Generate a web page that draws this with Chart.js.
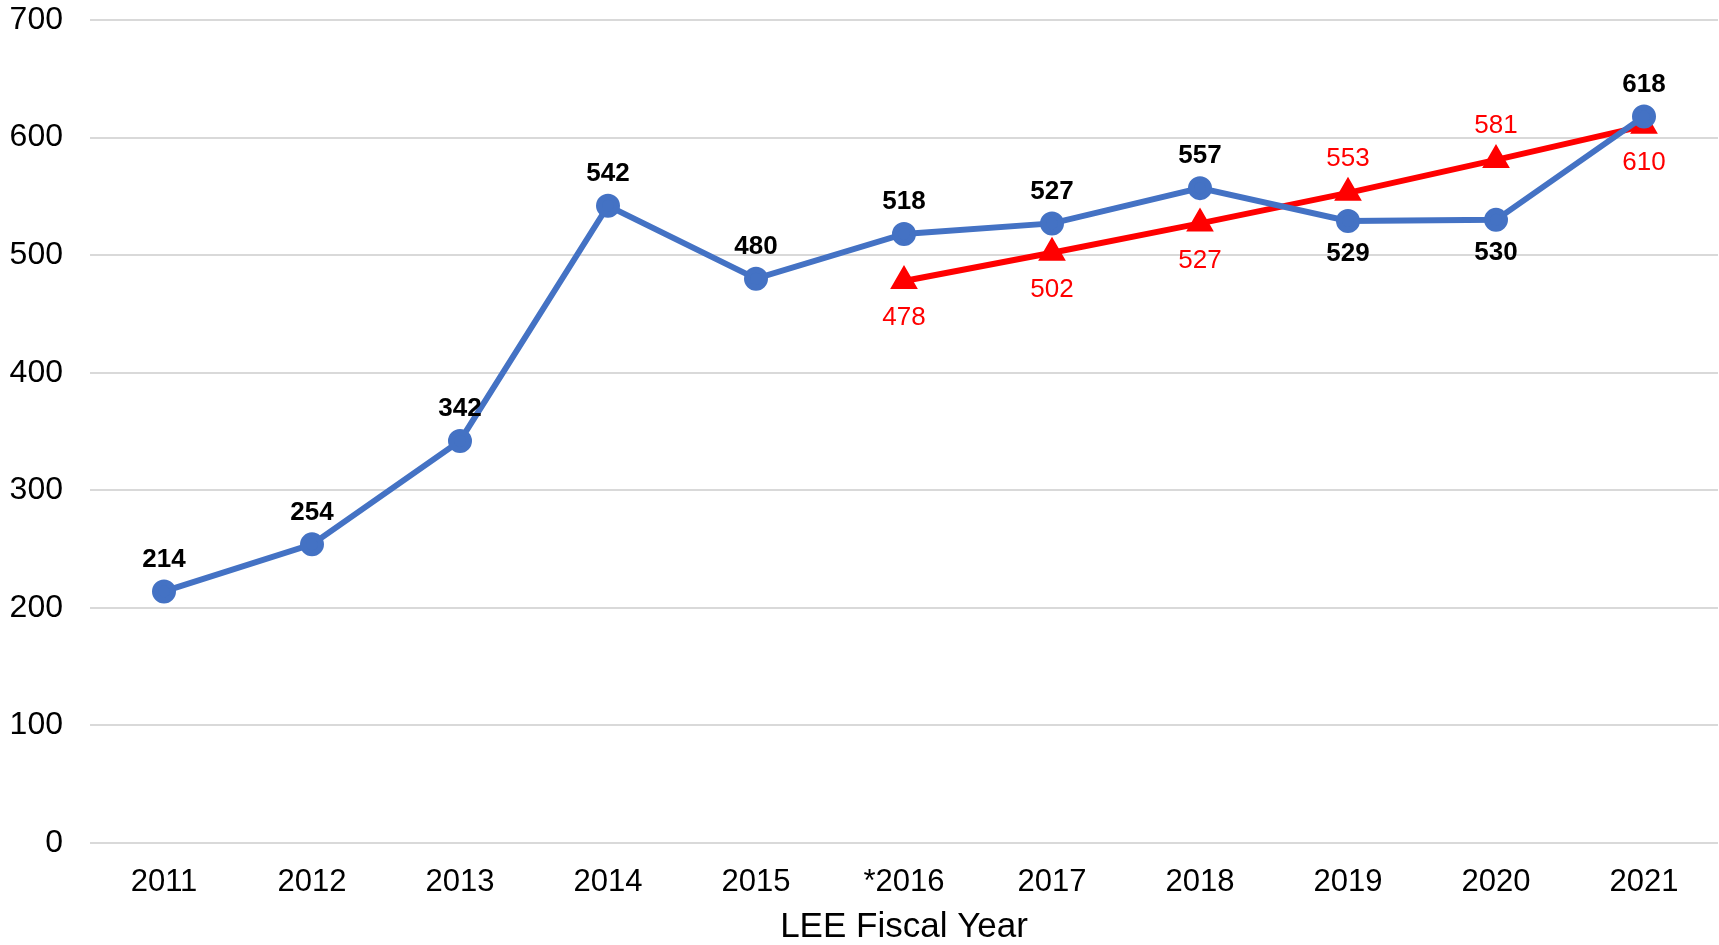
<!DOCTYPE html>
<html>
<head>
<meta charset="utf-8">
<script src="https://cdn.jsdelivr.net/npm/chart.js@4"></script>
<style>
  html, body { margin: 0; padding: 0; background: #fff; overflow: hidden; }
  canvas { display: block; }
</style>
</head>
<body>
<canvas id="grafico" width="1719" height="945"></canvas>
<script>
// dados
const anos = ['2011', '2012', '2013', '2014', '2015', '*2016', '2017', '2018', '2019', '2020', '2021'];
const valoresAzul = [214, 254, 342, 542, 480, 518, 527, 557, 529, 530, 618];
const valoresVermelho = [null, null, null, null, null, 478, 502, 527, 553, 581, 610];
const posAzul = ['up', 'up', 'up', 'up', 'up', 'up', 'up', 'up', 'down', 'down', 'up'];
const posVermelho = [null, null, null, null, null, 'down', 'down', 'down', 'up', 'up', 'down'];

const FONTE = 'Arial, "Liberation Sans", sans-serif';

// rotulos dos pontos
const rotulos = {
  id: 'rotulos',
  afterDatasetsDraw(chart) {
    const ctx = chart.ctx;
    const conf = [
      { pos: posAzul, cor: '#000', peso: 'bold', up: 32, down: 33 },
      { pos: posVermelho, cor: '#ff0000', peso: 'normal', up: 34, down: 37 }
    ];
    chart.data.datasets.forEach((ds, i) => {
      const meta = chart.getDatasetMeta(i);
      const c = conf[i];
      ctx.save();
      ctx.font = c.peso + ' 26px ' + FONTE;
      ctx.fillStyle = c.cor;
      ctx.textAlign = 'center';
      ctx.textBaseline = 'middle';
      meta.data.forEach((pt, j) => {
        const v = ds.data[j];
        if (v === null) return;
        const dy = c.pos[j] === 'up' ? -c.up : c.down;
        ctx.fillText(String(v), pt.x, pt.y + dy);
      });
      ctx.restore();
    });
  }
};

const ctx = document.getElementById('grafico').getContext('2d');

const grafico = new Chart(ctx, {
  type: 'line',
  data: {
    labels: anos,
    datasets: [{
      data: valoresAzul,
      borderColor: '#4472c4',
      backgroundColor: '#4472c4',
      borderWidth: 6,
      pointRadius: 9,
      pointHoverRadius: 9,
      pointStyle: 'circle',
      tension: 0
    }, {
      data: valoresVermelho,
      borderColor: '#ff0000',
      backgroundColor: '#ff0000',
      borderWidth: 6,
      pointRadius: 10,
      pointHoverRadius: 10,
      pointStyle: 'triangle',
      tension: 0
    }]
  },
  options: {
    responsive: false,
    animation: false,
    layout: { autoPadding: false, padding: { top: 20, right: 1, left: 0, bottom: 0 } },
    plugins: {
      legend: { display: false },
      tooltip: { enabled: false }
    },
    scales: {
      x: {
        offset: true,
        grid: { display: false },
        border: { display: false },
        ticks: { color: '#000', font: { family: FONTE, size: 31 }, padding: 13 },
        title: {
          display: true,
          text: 'LEE Fiscal Year',
          color: '#000',
          font: { family: FONTE, size: 35, lineHeight: 1 },
          padding: { top: 0, bottom: 0 }
        },
        afterFit: s => { s.height = 102; s.paddingLeft = 0; s.paddingRight = 0; }
      },
      y: {
        min: 0,
        max: 700,
        ticks: { stepSize: 100, color: '#000', font: { family: FONTE, size: 32 }, padding: 27 },
        grid: { color: '#d9d9d9', lineWidth: 2, drawTicks: false },
        border: { display: false },
        afterFit: s => { s.width = 90; s.paddingTop = 0; s.paddingBottom = 0; }
      }
    }
  },
  plugins: [rotulos]
});
</script>
</body>
</html>
